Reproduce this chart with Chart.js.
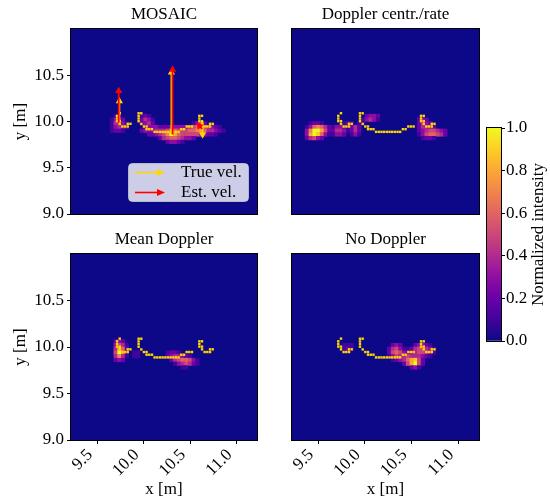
<!DOCTYPE html>
<html><head><meta charset="utf-8">
<script src="https://cdn.jsdelivr.net/npm/chart.js@4.4.1/dist/chart.umd.min.js"></script>
<style>
html,body{margin:0;padding:0;background:#fff;width:550px;height:498px;overflow:hidden;}
canvas{position:absolute;}
</style></head><body>
<canvas id="c0" width="262" height="219" style="left:0px;top:0px"></canvas>
<canvas id="c1" width="197" height="219" style="left:287px;top:0px"></canvas>
<canvas id="c2" width="262" height="273" style="left:0px;top:225px"></canvas>
<canvas id="c3" width="197" height="273" style="left:287px;top:225px"></canvas>
<canvas id="cb" width="68" height="233" style="left:482px;top:118px"></canvas>
<script>
// ---------------- data ----------------
const panelTitles = ['MOSAIC', 'Doppler centr./rate', 'Mean Doppler', 'No Doppler'];
const xTicks = [9.5, 10.0, 10.5, 11.0];
const yTicks = [9.0, 9.5, 10.0, 10.5];
const xRange = [9.22, 11.22];
const yRange = [9.0, 11.0];
const cbTicks = [0.0, 0.2, 0.4, 0.6, 0.8, 1.0];
const cellSize = 0.04;

// ground-truth scatterer positions (yellow dots)
const truthX = [9.744,9.715,9.715,9.715,9.744,9.744,9.772,9.801,9.830,9.830,9.859,
  9.947,9.976,9.947,9.947,9.947,9.976,10.004,10.033,10.033,10.062,10.091,
  10.119,10.148,10.177,10.205,10.234,10.263,10.291,10.320,10.349,10.377,
  10.406,10.435,10.464,10.492,10.521,
  10.600,10.629,10.600,10.600,10.629,10.629,10.657,10.686,10.715,10.715,10.744];
const truthY = [10.090,10.061,10.032,10.004,10.004,9.975,9.946,9.946,9.946,9.975,9.975,
  10.089,10.089,10.060,10.032,10.003,9.974,9.946,9.946,9.917,9.917,9.917,
  9.888,9.888,9.888,9.888,9.888,9.888,9.888,9.888,9.888,9.888,
  9.917,9.917,9.946,9.946,9.946,
  10.061,10.061,10.032,10.004,10.004,9.975,9.946,9.946,9.946,9.975,9.975];

// heat-map rows: [row centre y, first cell centre x, intensities in tenths]
const heatMosaic = [
  [10.06, 9.70, [1,1,0,0,0,0,0,1,2,1]],
  [10.02, 9.66, [1,3,3,2,0,0,0,0,2,4,3,1]],
  [9.98, 9.66, [1,4,4,3,1,0,0,0,2,3,4,2,0,0,0,0,0,0,0,0,0,0,1,3,5,2]],
  [9.94, 9.66, [1,3,4,3,2,0,0,0,0,2,3,3,3,2,2,2,3,3,3,3,3,4,5,6,7,5,4,3,2,1]],
  [9.90, 9.66, [1,2,2,1,0,0,0,0,2,3,3,3,4,4,4,5,7,6,5,5,5,6,6,7,8,6,4,4,3,2,1]],
  [9.86, 10.06, [2,2,3,4,5,7,10,8,6,5,5,5,5,5,4,3,2,2,1]],
  [9.82, 10.18, [2,4,5,6,6,5,4,3,3,2]],
  [9.78, 10.26, [2,3,3,2,1]]
];
const heatDoppler = [
  [10.06, 10.02, [2,3,3,2]],
  [10.02, 9.98, [1,3,4,3,1]],
  [10.02, 10.58, [2,3,2]],
  [9.98, 9.42, [1,2,2,1]],
  [9.98, 9.78, [1,2,1,0,1,1]],
  [9.98, 10.58, [2,4,3,2]],
  [9.94, 9.38, [1,3,6,7,6,4,2,1,3,3,2,1,2,4,2]],
  [9.94, 10.58, [2,4,4,3,2]],
  [9.90, 9.38, [3,7,10,10,8,5,2,2,4,4,3,1,2,4,2]],
  [9.90, 10.58, [2,3,4,5,5,4,3,2]],
  [9.86, 9.38, [3,8,10,9,6,3,1,1,3,3,2,0,1,3,1]],
  [9.86, 10.58, [1,3,5,6,6,5,4,2]],
  [9.82, 9.38, [2,4,5,3,2]],
  [9.82, 10.62, [1,2,2,1]]
];
const heatMean = [
  [10.06, 9.70, [2,3,2]],
  [10.02, 9.70, [3,5,4,1]],
  [9.98, 9.70, [4,8,6,2]],
  [9.94, 9.70, [5,10,7,2,0,1,1]],
  [9.90, 9.70, [4,7,4,1,0,1,1]],
  [9.86, 9.70, [2,3,2]],
  [9.94, 10.26, [1,2,2,1]],
  [9.90, 10.26, [2,3,4,4,3,2,1]],
  [9.86, 10.30, [2,4,5,6,6,5,3,1]],
  [9.82, 10.34, [1,3,4,5,4,2,1]],
  [9.78, 10.42, [1,1]]
];
const heatNone = [
  [10.02, 9.78, [1,1,1]],
  [9.98, 9.78, [1,2,1]],
  [10.02, 10.30, [2,3,2,0,0,0,2,3,3,2,1]],
  [9.98, 10.26, [2,4,5,3,1,1,2,4,5,5,4,3,1]],
  [9.94, 10.26, [2,5,6,5,3,2,3,4,5,5,4,3,1]],
  [9.90, 10.26, [1,3,5,4,4,5,4,4,4,3,2,1]],
  [9.86, 10.30, [1,2,3,4,6,8,9,5,2]],
  [9.82, 10.42, [2,5,8,10,5,2]],
  [9.78, 10.50, [2,3,1]]
];

// velocity arrows in the MOSAIC panel (tail -> head)
const trueVelX0 = [9.740, 10.300, 10.635];
const trueVelY0 = [9.990, 9.860, 10.000];
const trueVelX1 = [9.740, 10.300, 10.635];
const trueVelY1 = [10.220, 10.530, 9.860];
const estVelX0 = [9.733, 10.312, 10.630];
const estVelY0 = [9.990, 9.860, 9.920];
const estVelX1 = [9.733, 10.312, 10.600];
const estVelY1 = [10.330, 10.560, 9.955];

const legendLabels = ['True vel.', 'Est. vel.'];
const trueColor = '#ffd700';
const estColor = '#ff0000';

// ---------------- helpers ----------------
const FAMILY = "'Liberation Serif', 'Times New Roman', serif";
const FS = 17;
const plasmaStops = ['#0d0887','#41049d','#6a00a8','#8f0da4','#b12a90','#cc4778','#e16462','#f2844b','#fca636','#fcce25','#f0f921'];
function hex2rgb(h){return [parseInt(h.substr(1,2),16),parseInt(h.substr(3,2),16),parseInt(h.substr(5,2),16)];}
function plasma(v){
  v = Math.max(0, Math.min(1, v));
  const p = v * 10, i = Math.min(9, Math.floor(p)), f = p - i;
  const a = hex2rgb(plasmaStops[i]), b = hex2rgb(plasmaStops[i+1]);
  return 'rgb(' + a.map((c,k)=>Math.round(c + (b[k]-c)*f)).join(',') + ')';
}
function heatPoints(rows){
  const pts = [];
  rows.forEach(([yc, x0, vals]) => vals.forEach((v,i) => { if (v > 0) pts.push({x: x0 + i*cellSize, y: yc, v: v/10}); }));
  return pts;
}
Chart.defaults.font.family = FAMILY;
Chart.defaults.font.size = FS;
Chart.defaults.color = '#000';

const bgPlugin = {id:'bg', beforeDatasetsDraw(chart){
  const {ctx, chartArea:a} = chart; ctx.save(); ctx.fillStyle = '#0d0887';
  ctx.fillRect(a.left, a.top, a.right-a.left, a.bottom-a.top); ctx.restore();}};
const framePlugin = {id:'frame', afterDraw(chart){
  const {ctx, chartArea:a} = chart; ctx.save(); ctx.strokeStyle = '#000'; ctx.lineWidth = 1;
  ctx.strokeRect(a.left-0.5, a.top-0.5, a.right-a.left+1, a.bottom-a.top+1); ctx.restore();}};
function titlePlugin(text){ return {id:'ptitle', afterDraw(chart){
  const {ctx, chartArea:a} = chart; ctx.save(); ctx.fillStyle = '#000';
  ctx.font = FS + 'px ' + FAMILY; ctx.textAlign = 'center'; ctx.textBaseline = 'middle';
  ctx.fillText(text, (a.left+a.right)/2, a.top - 14.5); ctx.restore();}}; }

function drawArrow(ctx, x0, y0, x1, y1, color){
  const ang = Math.atan2(y1-y0, x1-x0);
  const hl = 8, hw = 3.5;
  const bx = x1 - Math.cos(ang)*hl, by = y1 - Math.sin(ang)*hl;
  ctx.strokeStyle = color; ctx.lineWidth = 1.6;
  ctx.beginPath(); ctx.moveTo(x0, y0); ctx.lineTo(bx, by); ctx.stroke();
  ctx.fillStyle = color; ctx.beginPath(); ctx.moveTo(x1, y1);
  ctx.lineTo(bx - Math.sin(ang)*hw, by + Math.cos(ang)*hw);
  ctx.lineTo(bx + Math.sin(ang)*hw, by - Math.cos(ang)*hw); ctx.closePath(); ctx.fill();
}
const legendPlugin = {id:'vlegend', afterDraw(chart){
  const {ctx, chartArea:a} = chart;
  const w = 120, h = 38, x = a.right - 9 - w, y = a.bottom - 13 - h, r = 4;
  ctx.save();
  ctx.fillStyle = 'rgba(255,255,255,0.8)'; ctx.strokeStyle = 'rgba(204,204,204,0.8)'; ctx.lineWidth = 1;
  ctx.beginPath(); ctx.roundRect(x+0.5, y+0.5, w, h, r); ctx.fill(); ctx.stroke();
  const rows = [y + 9.5, y + 29.5];
  [trueColor, estColor].forEach((c,i) => drawArrow(ctx, x+7, rows[i], x+37, rows[i], c));
  ctx.fillStyle = '#000'; ctx.font = FS + 'px ' + FAMILY; ctx.textAlign = 'left'; ctx.textBaseline = 'middle';
  legendLabels.forEach((t,i) => ctx.fillText(t, x + 53, rows[i] + 0.5));
  ctx.restore();}};

function cellRadius(ctx){
  const s = ctx.chart.scales.x;
  const side = Math.abs(s.getPixelForValue(xRange[0] + cellSize) - s.getPixelForValue(xRange[0]));
  return side * Math.SQRT1_2 + 0.35;
}
function headRotation(ctx){
  const ds = ctx.dataset.data, sx = ctx.chart.scales.x, sy = ctx.chart.scales.y;
  const dx = sx.getPixelForValue(ds[1].x) - sx.getPixelForValue(ds[0].x);
  const dy = sy.getPixelForValue(ds[1].y) - sy.getPixelForValue(ds[0].y);
  return Math.atan2(dx, -dy) * 180 / Math.PI;
}
function arrowDataset(x0, y0, x1, y1, color, order){
  return {data:[{x:x0,y:y0},{x:x1,y:y1}], showLine:true, borderColor:color, borderWidth:1.8,
    pointRadius:[0,4.2], pointStyle:'triangle', pointRotation:headRotation,
    pointBackgroundColor:color, pointBorderWidth:0, order:order};
}

function makePanel(id, idx, heat, showX, showY, withArrows){
  const datasets = [];
  datasets.push({data: heatPoints(heat), pointStyle:'rect', pointRadius:cellRadius,
    pointBackgroundColor: c => c.raw ? plasma(c.raw.v) : '#0d0887', pointBorderWidth:0, order:3});
  datasets.push({data: truthX.map((x,i)=>({x, y: truthY[i]})), pointStyle:'rect', pointRadius:1.7,
    pointBackgroundColor: trueColor, pointBorderWidth:0, order:2});
  if (withArrows){
    trueVelX0.forEach((x,i)=>datasets.push(arrowDataset(x, trueVelY0[i], trueVelX1[i], trueVelY1[i], trueColor, 1)));
    estVelX0.forEach((x,i)=>datasets.push(arrowDataset(x, estVelY0[i], estVelX1[i], estVelY1[i], estColor, 0)));
  }
  const grid = {display:true, drawOnChartArea:false, drawTicks:true, tickLength:4, tickColor:'#000', tickWidth:1};
  const plugins = [bgPlugin, framePlugin, titlePlugin(panelTitles[idx])];
  if (withArrows) plugins.push(legendPlugin);
  const left = showY ? 0 : 5;
  return new Chart(document.getElementById(id), {
    type:'scatter',
    data:{datasets},
    options:{
      responsive:false, animation:false, events:[],
      layout:{padding:{left, right:5, top:29, bottom: showX ? 0 : 5}},
      plugins:{legend:{display:false}, tooltip:{enabled:false}},
      scales:{
        x:{type:'linear', min:xRange[0], max:xRange[1], display:showX,
          afterBuildTicks: s => { s.ticks = xTicks.map(v=>({value:v})); },
          afterFit: s => { s.height = showX ? 58 : 0; s.paddingLeft = 0; s.paddingRight = 0; },
          ticks:{callback: v => Number(v).toFixed(1), maxRotation:45, minRotation:45, autoSkip:false, padding:1, labelOffset:-7, color:'#000', font:{size:FS}},
          grid, border:{display:false},
          title:{display:true, text:'x [m]', color:'#000', font:{size:FS, lineHeight:1}, padding:{top:0, bottom:0}}},
        y:{type:'linear', min:yRange[0], max:yRange[1], display:showY,
          afterBuildTicks: s => { s.ticks = yTicks.map(v=>({value:v})); },
          afterFit: s => { s.width = showY ? 71 : 0; s.paddingTop = 0; s.paddingBottom = 0; },
          ticks:{callback: v => Number(v).toFixed(1), padding:3, color:'#000', font:{size:FS}},
          grid, border:{display:false},
          title:{display:true, text:'y [m]', color:'#000', font:{size:FS, lineHeight:1}, padding:{top:12, bottom:0}}}
      }
    },
    plugins
  });
}

makePanel('c0', 0, heatMosaic, false, true, true);
makePanel('c1', 1, heatDoppler, false, false, false);
makePanel('c2', 2, heatMean, true, true, false);
makePanel('c3', 3, heatNone, true, false, false);

// ---------------- colorbar ----------------
const cbLabel = 'Normalized intensity';
const cbPlugin = {id:'cblabel', afterDraw(chart){
  const {ctx, chartArea:a} = chart; ctx.save(); ctx.fillStyle = '#000';
  ctx.font = FS + 'px ' + FAMILY; ctx.textAlign = 'center'; ctx.textBaseline = 'middle';
  ctx.translate(57, (a.top + a.bottom)/2); ctx.rotate(-Math.PI/2); ctx.fillText(cbLabel, 0, 0); ctx.restore();}};
new Chart(document.getElementById('cb'), {
  type:'bar',
  data:{labels:[''], datasets:[{data:[[cbTicks[0], cbTicks[cbTicks.length-1]]], barPercentage:1, categoryPercentage:1, borderWidth:0,
    backgroundColor: c => {
      const a = c.chart.chartArea; if (!a) return '#0d0887';
      const g = c.chart.ctx.createLinearGradient(0, a.bottom, 0, a.top);
      plasmaStops.forEach((s,i)=>g.addColorStop(i/10, s)); return g; }}]},
  options:{
    responsive:false, animation:false, events:[],
    layout:{padding:{left:5, right:0, top:10, bottom:10}},
    plugins:{legend:{display:false}, tooltip:{enabled:false}},
    scales:{
      x:{display:false},
      y:{position:'right', min:0, max:1,
        afterBuildTicks: s => { s.ticks = cbTicks.map(v=>({value:v})); },
        afterFit: s => { s.width = 49; s.paddingTop = 0; s.paddingBottom = 0; },
        ticks:{callback: v => Number(v).toFixed(1), padding:1, color:'#000', font:{size:FS}},
        grid:{display:true, drawOnChartArea:false, drawTicks:true, tickLength:4, tickColor:'#000'},
        border:{display:false}}
    }
  },
  plugins:[framePlugin, cbPlugin]
});
</script>
</body></html>
